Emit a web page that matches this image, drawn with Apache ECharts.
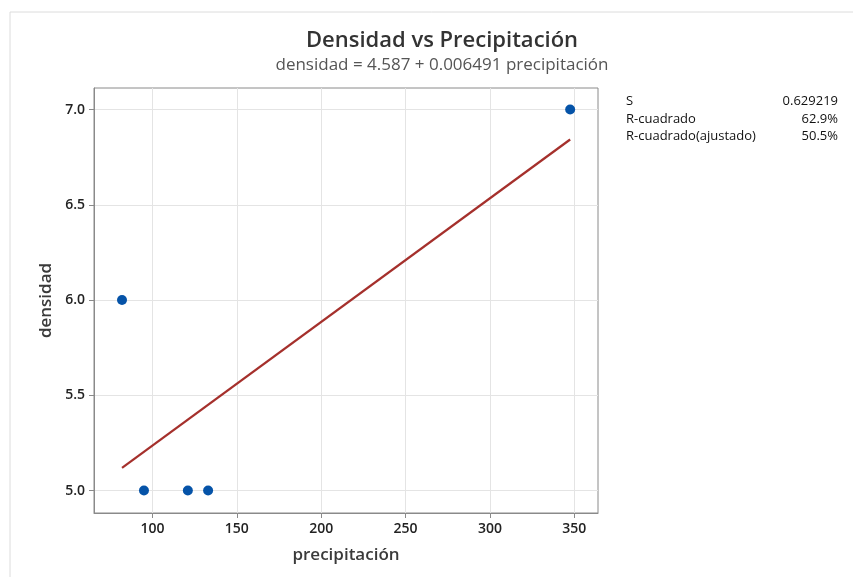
<!DOCTYPE html>
<html><head><meta charset="utf-8">
<script src="https://cdn.jsdelivr.net/npm/echarts@6/dist/echarts.min.js"></script>
<style>html,body{margin:0;padding:0;background:#fff}#c{width:853px;height:577px}</style>
</head><body><div id="c"></div>
<script>
const precipitacion = [82, 95, 121, 133, 347.5];
const densidad = [6.0, 5.0, 5.0, 5.0, 7.0];
const intercept = 4.587;
const slope = 0.006491;
const xTicks = [100, 150, 200, 250, 300, 350];
const yTicks = [5.0, 5.5, 6.0, 6.5, 7.0];
const statsNames = ['S', 'R-cuadrado', 'R-cuadrado(ajustado)'];
const statsValues = ['0.629219', '62.9%', '50.5%'];

const xmin = Math.min(...precipitacion), xmax = Math.max(...precipitacion);
const fitLine = [[xmin, intercept + slope * xmin], [xmax, intercept + slope * xmax]];
const F = '"Open Sans", "Noto Sans", sans-serif';

const chart = echarts.init(document.getElementById('c'), null, {renderer: 'canvas'});
chart.setOption({
  animation: false,
  backgroundColor: '#fff',
  title: {
    text: 'Densidad vs Precipitación',
    subtext: 'densidad = 4.587 + 0.006491 precipitación',
    left: 437, textAlign: 'center', top: 25, itemGap: 5,
    textStyle: {fontFamily: F, fontSize: 22, fontWeight: 600, color: '#333'},
    subtextStyle: {fontFamily: F, fontSize: 17, color: '#555'}
  },
  grid: {left: 94, top: 88, right: 255, bottom: 64, show: true, borderColor: '#8a8a8a', borderWidth: 1},
  xAxis: {
    type: 'value', min: 65.4, max: 364,
    name: 'precipitación', nameLocation: 'middle', nameGap: 34,
    nameTextStyle: {fontFamily: F, fontSize: 17, fontWeight: 600, color: '#3a3a3a'},
    axisLine: {show: true, onZero: false, lineStyle: {color: '#8a8a8a'}},
    axisTick: {show: true, customValues: xTicks, length: 5, lineStyle: {color: '#8a8a8a'}},
    axisLabel: {customValues: xTicks, fontFamily: F, fontSize: 14, fontWeight: 600, color: '#222', margin: 9},
    splitLine: {show: true, lineStyle: {color: '#e4e4e4'}}
  },
  yAxis: {
    type: 'value', min: 4.882, max: 7.113,
    name: 'densidad', nameLocation: 'middle', nameGap: 38, nameRotate: 90,
    nameTextStyle: {fontFamily: F, fontSize: 17, fontWeight: 600, color: '#3a3a3a'},
    axisLine: {show: true, onZero: false, lineStyle: {color: '#8a8a8a'}},
    axisTick: {show: true, customValues: yTicks, length: 5, lineStyle: {color: '#8a8a8a'}},
    axisLabel: {customValues: yTicks, formatter: v => v.toFixed(1), fontFamily: F, fontSize: 14, fontWeight: 600, color: '#222', margin: 9},
    splitLine: {show: true, lineStyle: {color: '#e4e4e4'}}
  },
  graphic: [
    {type: 'polyline', shape: {points: [[10, 577], [10, 12], [853, 12]]}, style: {stroke: '#dcdcdc', lineWidth: 1, fill: null}, silent: true},
    {type: 'group', left: 626, top: 95, children: statsNames.map((n, i) => ({
      type: 'text', x: 0, y: i * 17.5, style: {text: n, font: '500 13px ' + F, fill: '#111'}
    }))},
    {type: 'group', right: 15, top: 95, children: statsValues.map((n, i) => ({
      type: 'text', x: 0, y: i * 17.5, style: {text: n, font: '500 13px ' + F, fill: '#111', align: 'right'}
    }))}
  ],
  series: [
    {type: 'line', data: fitLine, showSymbol: false, symbol: 'none', lineStyle: {color: '#a5302c', width: 2.2}, z: 2},
    {type: 'scatter', data: precipitacion.map((x, i) => [x, densidad[i]]), symbolSize: 10, itemStyle: {color: '#0553a8', opacity: 1}, z: 3}
  ]
});
</script></body></html>
